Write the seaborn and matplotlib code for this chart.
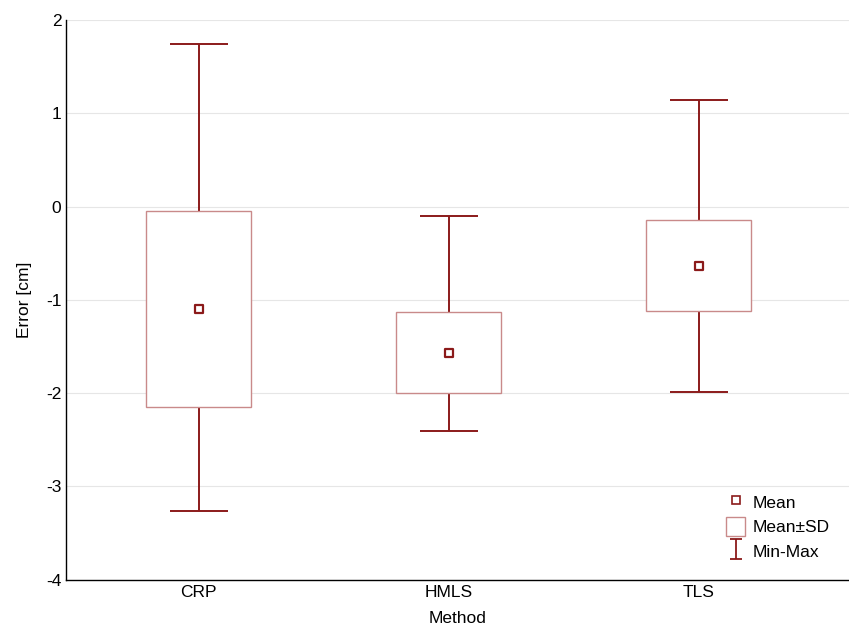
import numpy as np
import pandas as pd
import seaborn as sns
import matplotlib.pyplot as plt
from matplotlib.lines import Line2D
from matplotlib.patches import Patch
from matplotlib.path import Path

# data
methods = ['CRP', 'HMLS', 'TLS']
mean_vals = [-1.10, -1.57, -0.64]
sd_upper = [-0.05, -1.13, -0.14]
sd_lower = [-2.15, -2.00, -1.12]
min_vals = [-3.26, -2.41, -1.99]
max_vals = [1.74, -0.10, 1.14]

df = pd.DataFrame({'Method': methods, 'Mean': mean_vals,
                   'SD_hi': sd_upper, 'SD_lo': sd_lower,
                   'Min': min_vals, 'Max': max_vals})

sns.set_theme(style='white')
plt.rcParams['font.family'] = ['Liberation Sans', 'DejaVu Sans']
plt.rcParams['axes.unicode_minus'] = False
plt.rcParams['text.color'] = 'black'
plt.rcParams['axes.labelcolor'] = 'black'
plt.rcParams['xtick.color'] = 'black'
plt.rcParams['ytick.color'] = 'black'

dark_red = '#8b1a1a'
box_red = '#c98a8a'
fs = 12.5

fig, ax = plt.subplots(figsize=(8.49, 6.42), dpi=100)
fig.subplots_adjust(left=0.078, right=1.0, top=0.969, bottom=0.097)

x = np.arange(len(df))
box_w = 0.42
cap_w = 0.23

# grid
for yv in range(-3, 3):
    ax.axhline(yv, color='#e6e6e6', lw=0.8, zorder=0)

# min-max whiskers
ax.vlines(x, df['Min'], df['Max'], color=dark_red, lw=1.4, zorder=1)
ax.hlines(df['Min'], x - cap_w / 2, x + cap_w / 2, color=dark_red, lw=1.4, zorder=1)
ax.hlines(df['Max'], x - cap_w / 2, x + cap_w / 2, color=dark_red, lw=1.4, zorder=1)

# mean +- sd boxes
ax.bar(x, df['SD_hi'] - df['SD_lo'], bottom=df['SD_lo'], width=box_w,
       facecolor='white', edgecolor=box_red, linewidth=1.0, zorder=2)

# means
sns.scatterplot(x=x, y=df['Mean'], marker='s', s=36, facecolor='white',
                edgecolor=dark_red, linewidth=1.6, ax=ax, zorder=3, legend=False)

ax.set_xlim(-0.53, 2.6)
ax.set_ylim(-4, 2)
ax.set_yticks(range(-4, 3))
ax.set_xticks(x)
ax.set_xticklabels(methods)
ax.set_xlabel('Method', fontsize=fs, labelpad=8)
ax.set_ylabel('Error [cm]', fontsize=fs, labelpad=10)
ax.tick_params(axis='both', labelsize=fs, direction='in', length=3, color='black')
for side in ['top', 'right']:
    ax.spines[side].set_visible(False)
for side in ['left', 'bottom']:
    ax.spines[side].set_color('black')
    ax.spines[side].set_linewidth(1.0)

# legend
i_marker = Path([(-0.6, -1), (0.6, -1), (0, -1), (0, 1), (-0.6, 1), (0.6, 1)],
                [Path.MOVETO, Path.LINETO, Path.MOVETO, Path.LINETO, Path.MOVETO, Path.LINETO])
handles = [
    Line2D([], [], marker='s', linestyle='none', markersize=6, markerfacecolor='white',
           markeredgecolor=dark_red, markeredgewidth=1.2),
    Patch(facecolor='white', edgecolor=box_red, linewidth=1.0),
    Line2D([], [], marker=i_marker, linestyle='none', markersize=15,
           markeredgecolor=dark_red, markeredgewidth=1.3, color=dark_red),
]
ax.legend(handles, ['Mean', 'Mean±SD', 'Min-Max'], loc='lower right',
          bbox_to_anchor=(0.995, 0.007), frameon=False, fontsize=fs,
          handlelength=1.1, handleheight=1.25, handletextpad=0.4, labelspacing=0.35)

plt.savefig('out.png', dpi=100)
